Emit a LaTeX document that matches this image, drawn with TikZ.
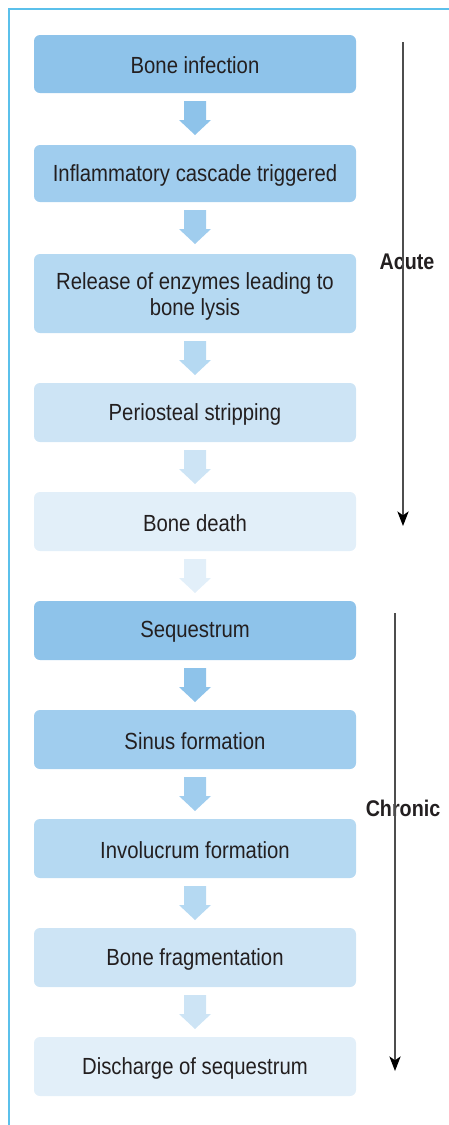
\documentclass[tikz,border=0pt]{standalone}
\usepackage{fontspec}
\setmainfont{Liberation Sans}[FakeStretch=0.87]
\usetikzlibrary{arrows.meta}
\definecolor{frameblue}{HTML}{5BC0EB}
\definecolor{cA}{HTML}{8EC3EA}
\definecolor{cB}{HTML}{A0CDEE}
\definecolor{cC}{HTML}{B5D9F2}
\definecolor{cD}{HTML}{CDE4F5}
\definecolor{cE}{HTML}{E2EFF9}
\definecolor{txt}{HTML}{231F20}
\definecolor{axis}{HTML}{4D4D4D}
\begin{document}
\begin{tikzpicture}[x=0.75pt,y=-0.75pt,
  steptext/.style={text=txt, align=center, inner sep=0pt, font=\fontsize{17.5pt}{19.5pt}\selectfont},
  phase/.style={font=\bfseries\fontsize{17pt}{19.5pt}\selectfont, text=txt},
  timeline/.style={draw=axis, line width=0.9pt, -{Stealth[length=11pt,width=8.5pt,inset=3pt,color=black]}}
]
\useasboundingbox (0,0) rectangle (449,1125);
\draw[frameblue, line width=1.4pt] (9,1125) -- (9,9) -- (449,9);

% boxes
\foreach \n/\top/\bot/\col in {b1/35/93/cA, b2/145/202/cB, b3/254/333/cC, b4/383/442/cD, b5/492/551/cE,
   b6/601/660/cA, b7/710/769/cB, b8/819/878/cC, b9/928/987/cD, b10/1037/1096/cE}{
  \fill[\col, rounded corners=4.5pt] (34,\top) rectangle (356,\bot);
  \coordinate (\n) at (195,{(\top+\bot)/2});
}
\node[steptext] (t1) at (195,65) {Bone infection};
\node[steptext] (t2) at (195,175) {Inflammatory cascade triggered};
\node[steptext] (t3) at (195,296) {Release of enzymes leading to\\bone lysis};
\node[steptext] (t4) at (195,414) {Periosteal stripping};
\node[steptext] (t5) at (195,523) {Bone death};
\node[steptext] (t6) at (195,632) {Sequestrum};
\node[steptext] (t7) at (195,741) {Sinus formation};
\node[steptext] (t8) at (195,850) {Involucrum formation};
\node[steptext] (t9) at (195,959) {Bone fragmentation};
\node[steptext] (t10) at (195,1068) {Discharge of sequestrum};

% block arrows between boxes
\foreach \y/\col in {93/cA, 202/cB, 333/cC, 442/cD, 551/cE, 660/cA, 769/cB, 878/cC, 987/cD}{
  \fill[\col] (184,\y+8) -- (206,\y+8) -- (206,\y+27) -- (211,\y+27) -- (195,\y+42)
    -- (179,\y+27) -- (184,\y+27) -- cycle;
}

% phase labels and timelines
\node[phase] (acute) at (407,262) {Acute};
\node[phase] (chronic) at (403,808) {Chronic};
\coordinate (a0) at (403,42);
\coordinate (a1) at (403,526);
\coordinate (c0) at (395,613);
\coordinate (c1) at (395,1071);
\draw[timeline] (a0) -- (a1);
\draw[timeline] (c0) -- (c1);
\end{tikzpicture}
\end{document}
